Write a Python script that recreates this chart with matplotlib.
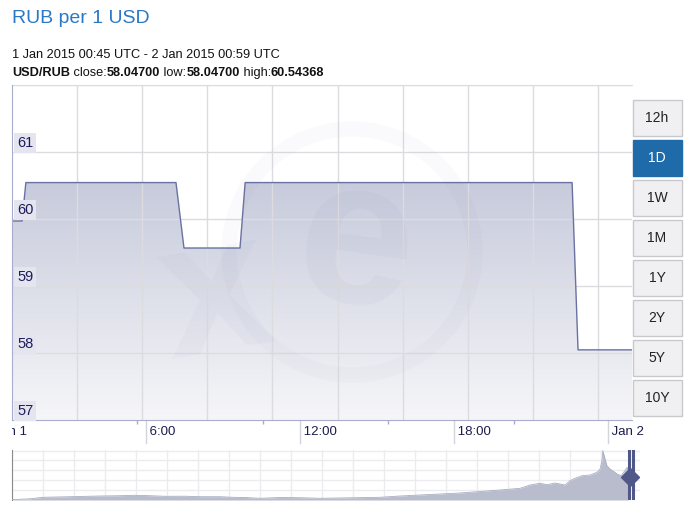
import numpy as np
import matplotlib
matplotlib.use("Agg")
import matplotlib.pyplot as plt
from matplotlib.patches import Rectangle, Circle, Polygon
from matplotlib.colors import LinearSegmentedColormap
from matplotlib.transforms import Bbox

plt.rcParams['font.family'] = ['Liberation Sans', 'DejaVu Sans']

# ---------------- data ----------------
title = "RUB per 1 USD"
range_text = "1 Jan 2015 00:45 UTC - 2 Jan 2015 00:59 UTC"
pair = "USD/RUB"
close_v, low_v, high_v = "58.04700", "58.04700", "60.54368"

# hours since 1 Jan 2015 00:00 UTC
times_h = [0.80, 1.19, 1.34, 7.18, 7.49, 9.67, 9.87, 22.59, 22.82, 24.92]
rate = [59.97, 59.97, 60.54368, 60.54368, 59.567, 59.567, 60.54368, 60.54368, 58.047, 58.047]

y_ticks = [57, 58, 59, 60, 61]
x_tick_hours = [0, 6, 12, 18, 24]
x_tick_labels = ["Jan 1", "6:00", "12:00", "18:00", "Jan 2"]
x_minor_hours = [5.66, 10.56, 15.43, 20.33]

buttons = ["12h", "1D", "1W", "1M", "1Y", "2Y", "5Y", "10Y"]
selected = "1D"

# navigator (long history overview), year vs relative level
nav_year = [1995.00, 1995.58, 1996.00, 1996.87, 1997.84, 1998.48, 1998.97, 1999.45,
            1999.94, 2000.58, 2001.06, 2001.71, 2002.13, 2002.52, 2003.00, 2003.65,
            2004.29, 2004.94, 2005.90, 2006.87, 2007.52, 2008.16, 2008.81, 2009.45,
            2010.10, 2010.74, 2011.39, 2011.71, 2012.03, 2012.26, 2012.52, 2012.84,
            2013.00, 2013.16, 2013.39, 2013.65, 2013.87, 2013.97, 2014.03, 2014.06,
            2014.13, 2014.19, 2014.29, 2014.42, 2014.52, 2014.65, 2014.77, 2014.84,
            2014.87]
nav_level = [0.3, 1.2, 2.7, 3.3, 4.0, 4.3, 4.7, 4.3,
             3.7, 3.8, 3.3, 3.3, 2.7, 2.5, 1.7, 2.5,
             2.3, 1.7, 2.2, 2.7, 4.0, 5.0, 6.0, 7.0,
             8.5, 10.0, 11.7, 15.0, 16.7, 15.3, 17.0, 15.0,
             19.3, 21.7, 24.3, 25.0, 27.7, 31.0, 39.0, 49.3,
             41.0, 34.3, 31.0, 28.3, 26.0, 24.3, 29.3, 32.7,
             30.0]
nav_handle_year = 2014.95
nav_handle_level = 23

W, H = 687, 508
fig = plt.figure(figsize=(W / 100, H / 100), dpi=100)

def fr(x0, y0, x1, y1):
    return [x0 / W, 1 - y1 / H, (x1 - x0) / W, (y1 - y0) / H]

# ---------------- main chart ----------------
ax = fig.add_axes(fr(12, 85, 632, 420))
xmin, xmax = 0.80, 24.92
ymin, ymax = 57, 62
ax.set_xlim(xmin, xmax)
ax.set_ylim(ymin, ymax)

# gradient fill under the line
cmap = LinearSegmentedColormap.from_list("g", ["#f6f6f9", "#c6cadb"])
grad = np.linspace(0, 1, 256).reshape(-1, 1)
img = ax.imshow(grad, extent=[xmin, xmax, ymin, 60.6], origin="lower", cmap=cmap,
                aspect="auto", zorder=1, vmin=0, vmax=1)
verts = np.vstack([np.column_stack([times_h, rate]),
                   [[times_h[-1], ymin], [times_h[0], ymin]]])
clip = Polygon(verts, closed=True, transform=ax.transData, fc="none", ec="none")
ax.add_patch(clip)
img.set_clip_path(clip)
ax.plot(times_h, rate, color="#6a71a3", lw=1.0, zorder=4)

# grid
for v in y_ticks[1:] + [62]:
    ax.axhline(v, color="#dcdce0", lw=1, zorder=2)
step = 65.1 / 620
for i in range(1, 10):
    ax.plot([i * step, i * step], [0, 1], transform=ax.transAxes,
            color="#dcdce0", lw=1, zorder=2)

ax.spines["right"].set_visible(False)
ax.spines["top"].set_color("#dcdce0")
ax.spines["left"].set_color("#a9acce")
ax.spines["bottom"].set_color("#a9acce")
ax.spines["left"].set_zorder(6)
ax.spines["bottom"].set_zorder(6)
ax.set_yticks([])
ax.set_xticks(x_minor_hours)
ax.set_xticklabels([])
ax.tick_params(axis="x", length=3, color="#a9acce", width=1)

# y labels inside plot
for v in y_ticks:
    ax.text(5 / 620, v + 0.03, str(v), transform=ax.get_yaxis_transform(),
            ha="left", va="bottom", fontsize=10.5, color="#1c1c5c", zorder=7,
            bbox=dict(boxstyle="square,pad=0.2", fc="#e5e5ef", ec="none"))

# x labels with long tick lines, clipped at the chart's left edge
label_clip = Bbox.from_extents(12, 0, W, H)
for h, lab in zip(x_tick_hours, x_tick_labels):
    ax.plot([h, h], [0, -23 / 335], transform=ax.get_xaxis_transform(),
            color="#d4d4dc", lw=1, clip_on=False, zorder=5)
    t = ax.text(h, -6 / 335, " " + lab, transform=ax.get_xaxis_transform(),
                ha="left", va="top", fontsize=9.5, color="#1c1c4c", clip_on=True)
    t.set_clip_box(label_clip)

# ---------------- navigator ----------------
nav = fig.add_axes(fr(12, 450, 640, 500))
nav.set_xlim(1995, 1995 + 628 / 31)
nav.set_ylim(0, 50)
for yy in range(1995, 2016):
    nav.axvline(yy, color="#ececee", lw=1, zorder=0)
for lv in [10, 20, 30, 40, 49]:
    nav.axhline(lv, color="#ececee", lw=1, zorder=0)
nav.fill_between(nav_year, nav_level, 0, color="#b9bccd", lw=0, zorder=2)
nav.plot(nav_year, nav_level, color="#a9adc2", lw=0.6, zorder=3)
for s in ["top", "right", "bottom"]:
    nav.spines[s].set_visible(False)
nav.spines["left"].set_color("#8a8a8a")
nav.set_xticks([])
nav.set_yticks([])
nav.axvline(nav_handle_year - 0.06, color="#50588a", lw=2.2, zorder=5)
nav.axvline(nav_handle_year + 0.07, color="#50588a", lw=2.2, zorder=5)
nav.plot([nav_handle_year], [nav_handle_level], marker="D", ms=9, color="#50588a",
         zorder=6, clip_on=False)

# ---------------- overlay (titles, buttons, watermark) ----------------
ov = fig.add_axes([0, 0, 1, 1])
ov.set_xlim(0, W)
ov.set_ylim(H, 0)
ov.axis("off")
ov.patch.set_visible(False)

# watermark
ov.add_patch(Circle((352, 252), 123, fill=False, lw=11, ec="#4a5080", alpha=0.025))
ov.text(356, 250, "e", fontsize=150, fontweight="bold", color="#4a5080", alpha=0.035,
        ha="center", va="center", rotation=-8)
ov.text(215, 300, "x", fontsize=140, fontweight="bold", color="#4a5080", alpha=0.03,
        ha="center", va="center", rotation=10)

ov.text(12, 23, title, fontsize=14, color="#2a78c6", ha="left", va="baseline")
ov.text(12, 58, range_text, fontsize=9.2, color="#111111", ha="left", va="baseline")

parts = [(pair, "bold"), (" close:", "normal"), (close_v, "bold"), (" low:", "normal"),
         (low_v, "bold"), (" high:", "normal"), (high_v, "bold")]
prev = ov.text(12, 76, parts[0][0], fontsize=9.2, fontweight=parts[0][1],
               color="#111111", ha="left", va="baseline")
for txt, wt in parts[1:]:
    prev = ov.annotate(txt, xy=(1, 0), xycoords=prev, ha="left", va="bottom",
                       fontsize=9.2, fontweight=wt, color="#111111")

for i, b in enumerate(buttons):
    top = 100 + 40 * i
    sel = b == selected
    ov.add_patch(Rectangle((632.5, top), 49.5, 35.5,
                           fc="#1f6aa8" if sel else "#f0f0f3",
                           ec="#1f6aa8" if sel else "#c9c9cd", lw=1))
    ov.text(657, top + 18, b, fontsize=10, color="white" if sel else "#222222",
            ha="center", va="center")

fig.savefig("out.png", dpi=100)
